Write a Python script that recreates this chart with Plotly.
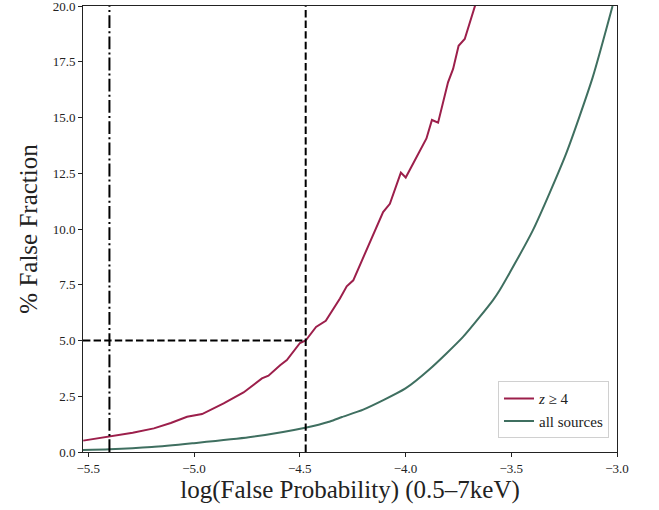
import plotly.graph_objects as go

# False fraction vs. log false probability, high-z subset
z4_logp = [-5.524, -5.395, -5.29, -5.19, -5.11, -5.033, -4.962, -4.86, -4.766, -4.679,
           -4.648, -4.593, -4.561, -4.499, -4.472, -4.423, -4.377, -4.31, -4.278, -4.247,
           -4.168, -4.106, -4.074, -4.022, -3.999, -3.901, -3.875, -3.846, -3.799, -3.775,
           -3.749, -3.72, -3.67]
z4_frac = [0.51, 0.69, 0.86, 1.06, 1.30, 1.58, 1.70, 2.18, 2.67, 3.30,
           3.42, 3.89, 4.12, 4.89, 5.0, 5.61, 5.88, 6.88, 7.43, 7.70,
           9.41, 10.76, 11.13, 12.53, 12.31, 14.06, 14.89, 14.77, 16.58, 17.18,
           18.22, 18.52, 20.05]

# All sources
all_logp = [-5.527, -5.40, -5.2, -5.008, -4.741, -4.474, -4.357, -4.30, -4.2, -4.0,
            -3.885, -3.728, -3.587, -3.555, -3.398, -3.241, -3.115, -3.021]
all_frac = [0.09, 0.12, 0.22, 0.39, 0.66, 1.09, 1.37, 1.57, 1.90, 2.85,
            3.72, 5.16, 6.80, 7.25, 9.94, 13.37, 16.8, 20.0]

# Thresholds
logp_limit = -5.40
logp_cut = -4.472
frac_cut = 5.0

x_range = [-5.525, -3.0]
y_range = [0.0, 20.0]
x_ticks = [-5.5, -5.0, -4.5, -4.0, -3.5, -3.0]
y_ticks = [0.0, 2.5, 5.0, 7.5, 10.0, 12.5, 15.0, 17.5, 20.0]

RED = "#9c1f4b"
GREEN = "#3f6f60"
FONT = "Liberation Serif"

fig = go.Figure()

fig.add_trace(go.Scatter(x=z4_logp, y=z4_frac, mode="lines", name="<i>z</i> ≥ 4",
                         line=dict(color=RED, width=2)))
fig.add_trace(go.Scatter(x=all_logp, y=all_frac, mode="lines", name="all sources",
                         line=dict(color=GREEN, width=2, shape="spline", smoothing=0.6)))

# Reference lines
fig.add_trace(go.Scatter(x=[logp_limit, logp_limit], y=y_range, mode="lines", showlegend=False,
                         line=dict(color="black", width=2, dash="12.8px,3.2px,2px,3.2px")))
fig.add_trace(go.Scatter(x=[logp_cut, logp_cut], y=y_range, mode="lines", showlegend=False,
                         line=dict(color="black", width=2, dash="7.4px,3.2px")))
fig.add_trace(go.Scatter(x=[x_range[0], logp_cut], y=[frac_cut, frac_cut], mode="lines",
                         showlegend=False,
                         line=dict(color="black", width=2, dash="7.4px,3.2px")))

axis_common = dict(showgrid=False, zeroline=False, showline=True, mirror=True,
                   linecolor="#222", linewidth=1, ticks="outside", ticklen=4,
                   tickwidth=1, tickcolor="#222", tickfont=dict(family=FONT, size=13, color="#222"),
                   tickformat=".1f", ticklabeloverflow="allow")

fig.update_xaxes(range=x_range, tickvals=x_ticks, **axis_common,
                 title=dict(text="log(False Probability) (0.5–7keV)",
                            font=dict(family=FONT, size=25, color="#222"), standoff=4))
fig.update_yaxes(range=[y_range[0], y_range[1] + 0.001], tickvals=y_ticks, **axis_common,
                 title=dict(text="% False Fraction",
                            font=dict(family=FONT, size=25, color="#222"), standoff=7))

fig.update_layout(
    width=659, height=510,
    margin=dict(l=83, r=42, t=6, b=58, autoexpand=False),
    paper_bgcolor="white", plot_bgcolor="white",
    legend=dict(x=0.985, y=0.031, xanchor="right", yanchor="bottom",
                bgcolor="white", bordercolor="#d0d0d0", borderwidth=1,
                font=dict(family=FONT, size=15, color="#222"), tracegroupgap=0,
                itemwidth=30),
)

fig.write_html("out.html")
